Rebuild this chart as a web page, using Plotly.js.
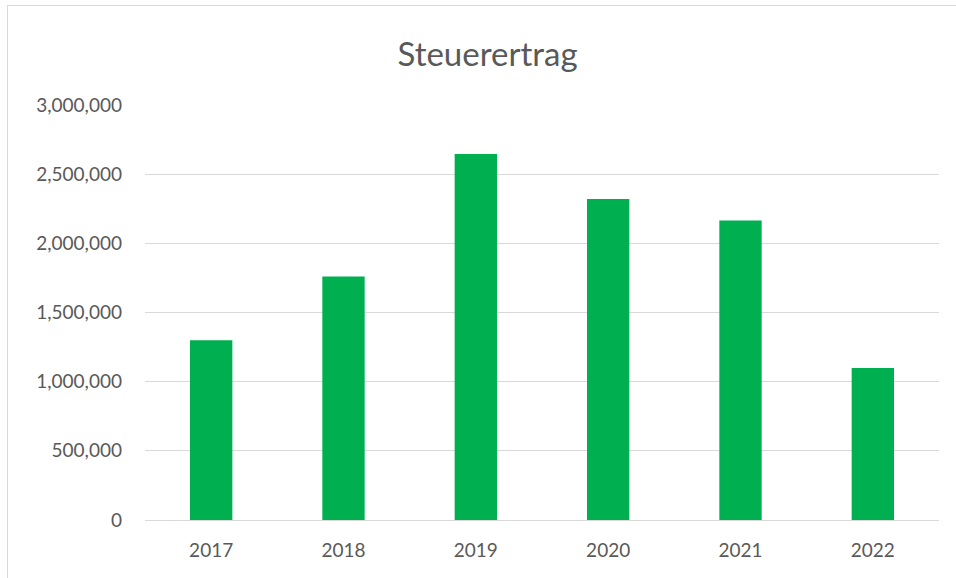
<!DOCTYPE html>
<html>
<head>
<meta charset="utf-8">
<script src="https://cdn.plot.ly/plotly-3.0.1.min.js"></script>
<style>
html,body{margin:0;padding:0;width:956px;height:578px;overflow:hidden;background:#fff;}
#frame{position:absolute;left:7px;top:5px;width:970px;height:600px;border:1px solid #d9d9d9;box-sizing:border-box;pointer-events:none;}
#chart{position:absolute;left:0;top:0;width:956px;height:578px;}
</style>
</head>
<body>
<div id="chart"></div>
<div id="frame"></div>
<script>
const years = ['2017','2018','2019','2020','2021','2022'];
const steuerertrag = [1300000, 1760000, 2645000, 2320000, 2165000, 1098000];
const tickValues = [0, 500000, 1000000, 1500000, 2000000, 2500000, 3000000];
const tickLabels = ['0','500,000','1,000,000','1,500,000','2,000,000','2,500,000','3,000,000'];

const fontFam = 'Lato, "Open Sans", sans-serif';
Plotly.newPlot('chart', [{
  type: 'bar',
  x: years,
  y: steuerertrag,
  marker: {color: '#00B050'},
  hoverinfo: 'x+y'
}], {
  width: 956, height: 578,
  margin: {l: 145, r: 17, t: 105, b: 58},
  paper_bgcolor: '#fff', plot_bgcolor: '#fff',
  bargap: 0.68,
  showlegend: false,
  title: {text: 'Steuerertrag', x: 0.51, xref: 'container', y: 0.905, yref: 'container', yanchor: 'middle',
          font: {family: fontFam, size: 33, color: '#595959'}},
  xaxis: {type: 'category', showgrid: false, showline: false, zeroline: false, ticks: '',
          ticklabelstandoff: 17,
          tickfont: {family: fontFam, size: 19, color: '#595959'}},
  yaxis: {range: [0, 3000000], tickvals: tickValues, ticktext: tickLabels, showgrid: true,
          gridcolor: '#d9d9d9', gridwidth: 1.3, zeroline: true, zerolinecolor: '#d9d9d9', zerolinewidth: 1.3,
          showline: false, ticks: '', ticklabelstandoff: 22,
          tickfont: {family: fontFam, size: 19, color: '#595959'}}
}, {displayModeBar: false, staticPlot: false});
</script>
</body>
</html>
